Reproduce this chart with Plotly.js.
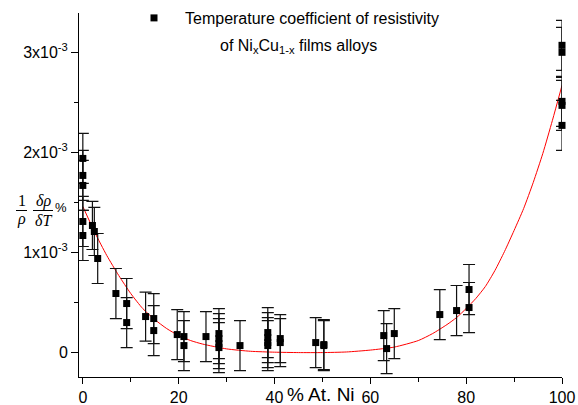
<!DOCTYPE html>
<html>
<head>
<meta charset="utf-8">
<script src="https://cdn.plot.ly/plotly-3.0.1.min.js"></script>
<style>html,body{margin:0;padding:0;background:#fff;}#chart{width:578px;height:405px;}</style>
</head>
<body>
<div id="chart"></div>
<script>
// Measured points: Ni content (at.%) and TCR (in units of 1e-3)
const niPct = [0, 0, 0, 0, 0, 2.0, 2.4, 3.1, 6.9, 9.15, 9.15, 13.1, 14.8, 14.8, 19.7, 21.1, 21.1,
  25.7, 28.4, 28.4, 28.4, 28.4, 32.8, 38.6, 38.6, 38.6, 38.6, 41.2, 41.2, 48.6, 50.3, 50.3,
  62.8, 63.4, 65.0, 74.5, 78.0, 80.6, 80.6, 100, 100, 100, 100, 100];
const tcrE3 = [1.94, 1.77, 1.67, 1.31, 1.17, 1.27, 1.21, 0.94, 0.59, 0.49, 0.30, 0.36, 0.34, 0.22, 0.18, 0.16, 0.07,
  0.16, 0.19, 0.14, 0.09, 0.05, 0.07, 0.20, 0.15, 0.10, 0.07, 0.14, 0.10, 0.10, 0.08, 0.07,
  0.17, 0.04, 0.19, 0.38, 0.42, 0.63, 0.45, 3.07, 3.00, 2.51, 2.47, 2.27];
const errE3 = [0.25, 0.25, 0.25, 0.25, 0.25, 0.24, 0.24, 0.25, 0.25, 0.25, 0.25, 0.245, 0.25, 0.25, 0.25, 0.25, 0.25,
  0.25, 0.25, 0.25, 0.25, 0.25, 0.25, 0.25, 0.25, 0.25, 0.25, 0.24, 0.24, 0.25, 0.25, 0.25,
  0.25, 0.25, 0.25, 0.25, 0.25, 0.25, 0.25, 0.25, 0.25, 0.25, 0.25, 0.25];

// Fitted curve (TCR in units of 1e-3)
const fitX = [0, 2.5, 5, 7.5, 10, 12.5, 15, 17.5, 20, 22.5, 25, 30, 35, 40, 45, 50, 55, 60, 65, 70, 73, 76, 78, 80, 82, 84, 86, 88, 90, 92, 94, 96, 98, 100];
const fitY = [1.46, 1.20, 0.97, 0.77, 0.59, 0.44, 0.33, 0.24, 0.17, 0.12, 0.085, 0.037, 0.013, 0.004, 0, 0, 0.006, 0.025, 0.055, 0.12, 0.19, 0.28, 0.35, 0.44, 0.54, 0.66, 0.82, 1.01, 1.22, 1.44, 1.70, 1.99, 2.32, 2.67];

const xTicks = [0, 20, 40, 60, 80, 100];
const yTickVals = [0, 1e-3, 2e-3, 3e-3];
const yTickText = ['0', '1x10<sup>-3</sup>', '2x10<sup>-3</sup>', '3x10<sup>-3</sup>'];
const seriesName = 'Temperature coefficient of resistivity';

const S = 1e-3;
const FONT = 'Liberation Sans, Arial, sans-serif';
const SERIF = 'Liberation Serif, Times New Roman, serif';

const fit = {
  x: fitX, y: fitY.map(v => v * S), type: 'scatter', mode: 'lines',
  line: {color: '#ff0000', width: 1, shape: 'spline', smoothing: 0.6},
  showlegend: false, hoverinfo: 'skip', cliponaxis: false
};
const pts = {
  x: niPct, y: tcrE3.map(v => v * S), type: 'scatter', mode: 'markers', name: seriesName,
  marker: {symbol: 'square', size: 7, color: '#000'},
  error_y: {type: 'data', array: errE3.map(v => v * S), visible: true, color: '#111', thickness: 1.2, width: 6},
  cliponaxis: false
};

// pixel helpers for paper coordinates (plot area 79..562 x, 13..377 y)
const L = 79, R = 562, T = 13, B = 377;
const px = p => (p - L) / (R - L);
const py = p => (B - p) / (B - T);

const layout = {
  width: 578, height: 405,
  margin: {l: L, r: 578 - R, t: T, b: 405 - B, pad: 0, autoexpand: false},
  paper_bgcolor: '#fff', plot_bgcolor: '#fff',
  font: {family: FONT, size: 16, color: '#000'},
  showlegend: true,
  legend: {x: px(123), y: py(1), xanchor: 'left', yanchor: 'top', bgcolor: 'rgba(0,0,0,0)',
           borderwidth: 0, font: {family: FONT, size: 16, color: '#000'}, itemwidth: 52},
  xaxis: {
    range: [-0.8, 100], tickmode: 'array', tickvals: xTicks, ticktext: xTicks.map(String),
    showline: true, linecolor: '#000', linewidth: 1, mirror: false, showgrid: false, zeroline: false,
    ticks: 'outside', ticklen: 6, tickwidth: 1, tickcolor: '#000',
    minor: {tickmode: 'linear', tick0: 10, dtick: 20, ticks: 'outside', ticklen: 4, tickwidth: 1, tickcolor: '#000', showgrid: false},
    tickfont: {family: FONT, size: 16, color: '#000'}, automargin: false
  },
  yaxis: {
    range: [-0.244e-3, 3.393e-3], tickmode: 'array', tickvals: yTickVals, ticktext: yTickText,
    showline: true, linecolor: '#000', linewidth: 1, mirror: false, showgrid: false, zeroline: false,
    ticks: 'outside', ticklen: 7, tickwidth: 1, tickcolor: '#000',
    minor: {tickmode: 'linear', tick0: 0.5e-3, dtick: 1e-3, ticks: 'outside', ticklen: 4, tickwidth: 1, tickcolor: '#000', showgrid: false},
    tickfont: {family: FONT, size: 16, color: '#000'}, automargin: false
  },
  annotations: [
    {xref: 'paper', yref: 'paper', x: px(218), y: py(46), xanchor: 'left', yanchor: 'middle', showarrow: false,
     text: 'of Ni<sub>x</sub>Cu<sub>1-x</sub> films alloys', font: {family: FONT, size: 16, color: '#000'}},
    {xref: 'paper', yref: 'paper', x: px(321), y: py(394), xanchor: 'center', yanchor: 'middle', showarrow: false,
     text: '% At. Ni', font: {family: FONT, size: 19, color: '#000'}},
    {xref: 'paper', yref: 'paper', x: px(21.5), y: py(201), xanchor: 'center', yanchor: 'middle', showarrow: false,
     text: '1', font: {family: SERIF, size: 16, color: '#000'}},
    {xref: 'paper', yref: 'paper', x: px(21.5), y: py(219), xanchor: 'center', yanchor: 'middle', showarrow: false,
     text: '<i>ρ</i>', font: {family: SERIF, size: 16, color: '#000'}},
    {xref: 'paper', yref: 'paper', x: px(43), y: py(201), xanchor: 'center', yanchor: 'middle', showarrow: false,
     text: '<i>δρ</i>', font: {family: SERIF, size: 16, color: '#000'}},
    {xref: 'paper', yref: 'paper', x: px(43), y: py(220), xanchor: 'center', yanchor: 'middle', showarrow: false,
     text: '<i>δT</i>', font: {family: SERIF, size: 16, color: '#000'}},
    {xref: 'paper', yref: 'paper', x: px(61), y: py(207), xanchor: 'center', yanchor: 'middle', showarrow: false,
     text: '%', font: {family: FONT, size: 13, color: '#000'}}
  ],
  shapes: [
    {type: 'line', xref: 'paper', yref: 'paper', x0: px(16), x1: px(27), y0: py(210.5), y1: py(210.5), line: {color: '#000', width: 1}},
    {type: 'line', xref: 'paper', yref: 'paper', x0: px(33), x1: px(53), y0: py(210.5), y1: py(210.5), line: {color: '#000', width: 1}}
  ]
};

Plotly.newPlot('chart', [fit, pts], layout, {staticPlot: true, displayModeBar: false});
</script>
</body>
</html>
